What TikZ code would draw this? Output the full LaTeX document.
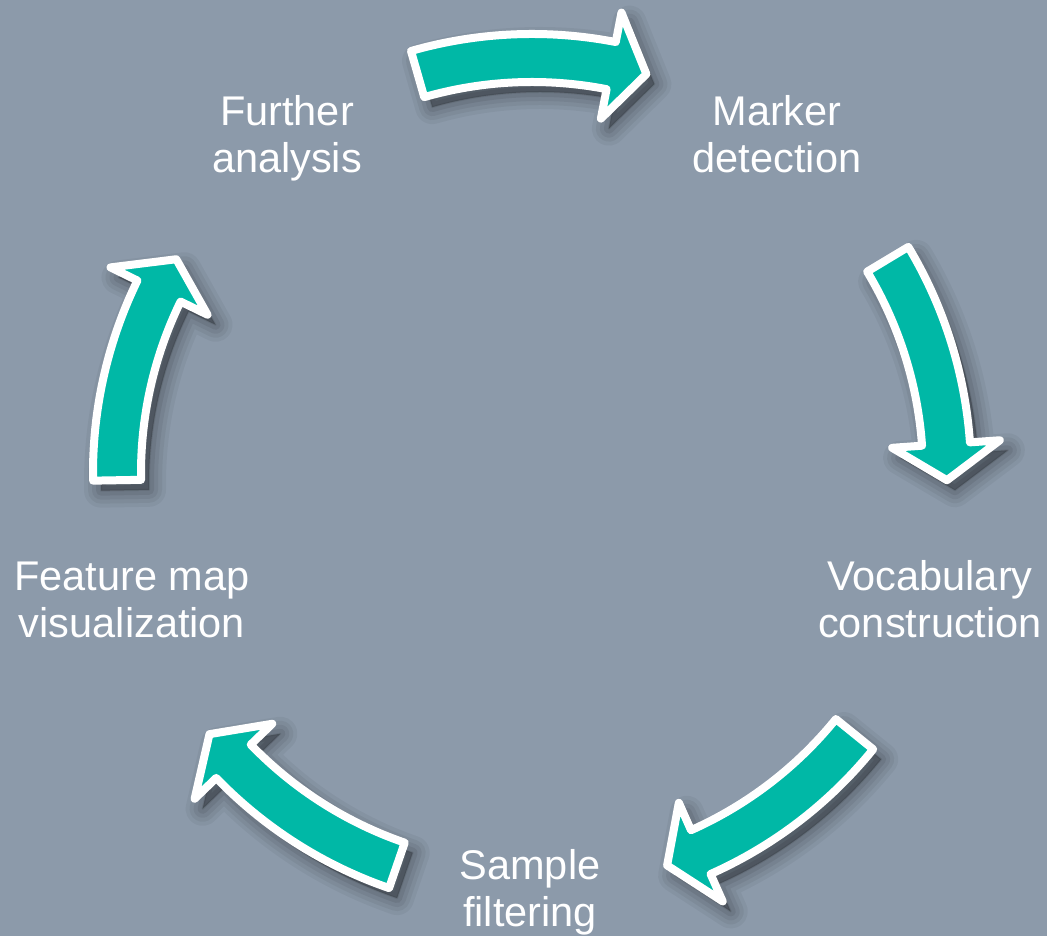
\documentclass[tikz,border=0pt]{standalone}
\usepackage{fontspec}
\setmainfont{Liberation Sans}
\definecolor{bgcol}{HTML}{8C9AAA}
\definecolor{arrowteal}{HTML}{00B8A6}
\newcommand\cyclearrow[1]{%
 ({#1+16}:391pt) -- ({#1+16}:439pt) arc[start angle={#1+16}, end angle={#1-11}, radius=439pt]
 -- ({#1-11}:469pt) -- ({#1-16}:415pt) -- ({#1-11}:361pt) -- ({#1-11}:391pt)
 arc[start angle={#1-11}, end angle={#1+16}, radius=391pt] -- cycle}
\tikzset{
  arrowbody/.style={fill=arrowteal, draw=white, line width=8pt, line join=round},
  shadowlayer/.style={fill=black, draw=black, fill opacity=#1, draw opacity=#1, line join=round},
  lab/.style={text=white, font=\fontsize{41.5}{47}\selectfont, inner sep=0pt, anchor=base},
}
\begin{document}
\begin{tikzpicture}[x=1pt,y=1pt]
\fill[bgcol] (0,0) rectangle (1047,936);
\useasboundingbox (0,0) rectangle (1047,936);
\begin{scope}[shift={(532,463)}]
  \foreach \m in {90,15,-55,-125,165}{
    \foreach \w/\o in {34/0.045,26/0.05,18/0.06,10/0.07,2/0.08}{
      \path[shadowlayer=\o, line width=\w pt, shift={(8pt,-10pt)}] \cyclearrow{\m};
    }
  }
  \foreach \m in {90,15,-55,-125,165}{
    \draw[arrowbody] \cyclearrow{\m};
  }
\end{scope}
\node[lab] (further) at (287,810) {\begin{tabular}[t]{@{}c@{}}Further\\analysis\end{tabular}};
\node[lab] (marker) at (777,810) {\begin{tabular}[t]{@{}c@{}}Marker\\detection\end{tabular}};
\node[lab] (vocab) at (930,345) {\begin{tabular}[t]{@{}c@{}}Vocabulary\\construction\end{tabular}};
\node[lab] (feature) at (132,345) {\begin{tabular}[t]{@{}c@{}}Feature map\\visualization\end{tabular}};
\node[lab] (sample) at (530,56) {\begin{tabular}[t]{@{}c@{}}Sample\\filtering\end{tabular}};
\end{tikzpicture}
\end{document}
